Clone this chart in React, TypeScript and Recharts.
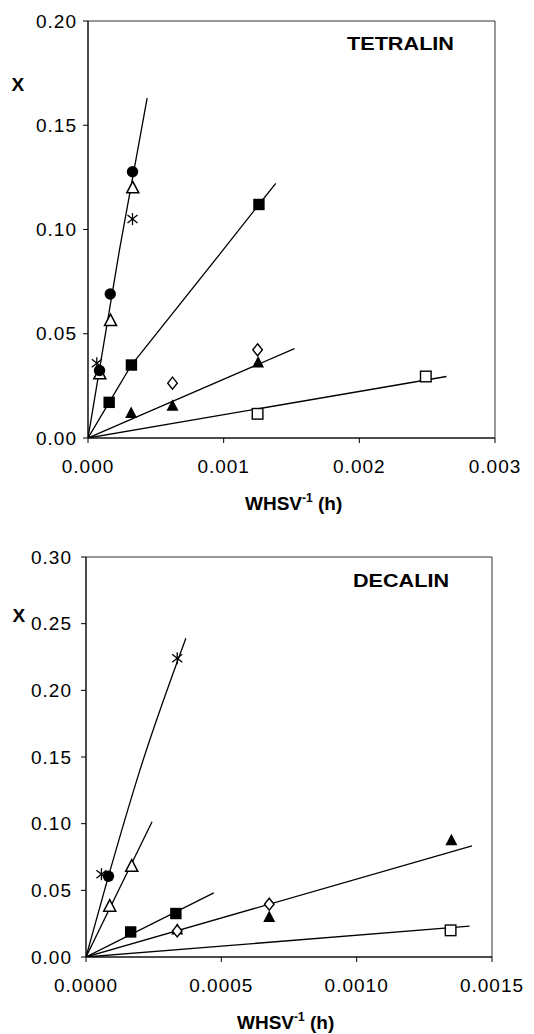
import React from "react";
import {
  ScatterChart,
  Scatter,
  XAxis,
  YAxis,
  ReferenceArea,
} from "recharts";

// TETRALIN (top panel): [WHSV^-1 (h), X]
const tetCircles = [[0.000085, 0.0324], [0.000164, 0.0691], [0.000328, 0.1277]];
const tetOpenTri = [[0.000087, 0.0308], [0.000166, 0.0563], [0.00033, 0.12]];
const tetStars = [[0.000065, 0.0359], [0.000328, 0.105]];
const tetFilledSq = [[0.000156, 0.0171], [0.00032, 0.035], [0.00126, 0.112]];
const tetFilledTri = [[0.000318, 0.012], [0.000623, 0.0155], [0.001254, 0.0362]];
const tetDiamonds = [[0.000623, 0.0263], [0.00125, 0.0423]];
const tetOpenSq = [[0.00125, 0.0116], [0.00249, 0.0295]];
const tetFits = [
  [[0, 0], [0.000232, 0.0902], [0.000436, 0.163]],
  [[0, 0], [0.000156, 0.0171], [0.00032, 0.035], [0.000996, 0.0902], [0.00126, 0.112], [0.001384, 0.1221]],
  [[0, 0], [0.001522, 0.0429]],
  [[0, 0], [0.002642, 0.0295]],
];
const tetXTicks = [0, 0.001, 0.002, 0.003];
const tetYTicks = [0, 0.05, 0.1, 0.15, 0.2];

// DECALIN (bottom panel)
const decStars = [[0.000057, 0.0621], [0.000337, 0.224]];
const decCircles = [[0.000083, 0.0606]];
const decOpenTri = [[0.0000877, 0.0381], [0.000169, 0.0681]];
const decFilledSq = [[0.000165, 0.0188], [0.000332, 0.0326]];
const decFilledTri = [[0.000337, 0.0206], [0.000677, 0.03], [0.00135, 0.0876]];
const decDiamonds = [[0.000337, 0.0195], [0.000677, 0.0396]];
const decOpenSq = [[0.001347, 0.02]];
const decFits = [
  [[0, 0], [0.000083, 0.0606], [0.000199, 0.14], [0.000369, 0.239]],
  [[0, 0], [0.000244, 0.1014]],
  [[0, 0], [0.000472, 0.0481]],
  [[0, 0], [0.001426, 0.0834]],
  [[0, 0], [0.001417, 0.0231]],
];
const decXTicks = [0, 0.0005, 0.001, 0.0015];
const decYTicks = [0, 0.05, 0.1, 0.15, 0.2, 0.25, 0.3];

const FONT = "'Liberation Sans', Arial, sans-serif";
const INK = "#000";

const pts = (a: number[][]) => a.map(([x, y]) => ({ x, y }));

const FilledCircle = (p: any) => <circle cx={p.cx} cy={p.cy} r={5.7} fill={INK} />;
const triPts = (p: any) =>
  `${p.cx},${p.cy - 6.5} ${p.cx - 6},${p.cy + 5} ${p.cx + 6},${p.cy + 5}`;
const OpenTri = (p: any) => (
  <polygon points={triPts(p)} fill="#fff" stroke={INK} strokeWidth={1.5} />
);
const FilledTri = (p: any) => <polygon points={triPts(p)} fill={INK} />;
const FilledSq = (p: any) => <rect x={p.cx - 5.7} y={p.cy - 5.7} width={11.4} height={11.4} fill={INK} />;
const OpenSq = (p: any) => (
  <rect x={p.cx - 5.3} y={p.cy - 5.3} width={10.6} height={10.6} fill="#fff" stroke={INK} strokeWidth={1.4} />
);
const Diamond = (p: any) => (
  <polygon
    points={`${p.cx},${p.cy - 6} ${p.cx + 4.8},${p.cy} ${p.cx},${p.cy + 6} ${p.cx - 4.8},${p.cy}`}
    fill="#fff"
    stroke={INK}
    strokeWidth={1.4}
  />
);
const Star = (p: any) => (
  <g stroke={INK} strokeWidth={1.3}>
    <line x1={p.cx - 5} y1={p.cy - 4} x2={p.cx + 5} y2={p.cy + 4} />
    <line x1={p.cx - 5} y1={p.cy + 4} x2={p.cx + 5} y2={p.cy - 4} />
    <line x1={p.cx} y1={p.cy - 6} x2={p.cx} y2={p.cy + 6} />
  </g>
);
const NoDot = () => <g />;

interface PanelProps {
  height: number;
  margin: { top: number; right: number; left: number; bottom: number };
  yWidth: number;
  xDomain: [number, number];
  yDomain: [number, number];
  xTicks: number[];
  yTicks: number[];
  xDigits: number;
  yTickMargin: number;
  fits: number[][][];
  smoothFits: number[];
  series: { data: number[][]; shape: any }[];
}

function Panel(props: PanelProps) {
  const tickStyle = { fontFamily: FONT, fontSize: 19, fill: INK, letterSpacing: 1 };
  return (
    <ScatterChart width={534} height={props.height} margin={props.margin}>
      <XAxis
        type="number"
        dataKey="x"
        domain={props.xDomain}
        ticks={props.xTicks}
        tickFormatter={(v: number) => v.toFixed(props.xDigits)}
        tick={tickStyle}
        tickSize={5}
        tickMargin={17}
        height={40}
        axisLine={{ stroke: INK }}
        tickLine={{ stroke: INK }}
        allowDataOverflow
        interval={0}
      />
      <YAxis
        type="number"
        dataKey="y"
        domain={props.yDomain}
        ticks={props.yTicks}
        tickFormatter={(v: number) => v.toFixed(2)}
        tick={tickStyle}
        tickSize={5}
        tickMargin={props.yTickMargin}
        width={props.yWidth}
        axisLine={{ stroke: INK }}
        tickLine={{ stroke: INK }}
        allowDataOverflow
        interval={0}
      />
      <ReferenceArea
        x1={props.xDomain[0]}
        x2={props.xDomain[1]}
        y1={props.yDomain[0]}
        y2={props.yDomain[1]}
        fill="none"
        stroke="#333"
        strokeWidth={1}
      />
      {props.fits.map((f, i) => (
        <Scatter
          key={"fit" + i}
          data={pts(f)}
          shape={NoDot}
          line={{ stroke: INK, strokeWidth: 1.3 }}
          lineJointType={props.smoothFits.includes(i) ? "monotoneX" : "linear"}
          isAnimationActive={false}
        />
      ))}
      {props.series.map((s, i) => (
        <Scatter key={"s" + i} data={pts(s.data)} shape={s.shape} isAnimationActive={false} />
      ))}
    </ScatterChart>
  );
}

const labelStyle = { fontFamily: FONT, fontWeight: 700 as const, fontSize: 19, fill: INK };

export default function App() {
  return (
    <div style={{ position: "absolute", left: 0, top: 0, width: 534, height: 1034, background: "#fff" }}>
      <div style={{ position: "absolute", left: 0, top: 0 }}>
        <Panel
          height={520}
          margin={{ top: 21, right: 39, left: 0, bottom: 42 }}
          yWidth={88}
          xDomain={[0, 0.003]}
          yDomain={[0, 0.2]}
          xTicks={tetXTicks}
          yTicks={tetYTicks}
          xDigits={3}
          yTickMargin={6}
          fits={tetFits}
          smoothFits={[0]}
          series={[
            { data: tetOpenSq, shape: OpenSq },
            { data: tetDiamonds, shape: Diamond },
            { data: tetFilledTri, shape: FilledTri },
            { data: tetFilledSq, shape: FilledSq },
            { data: tetStars, shape: Star },
            { data: tetOpenTri, shape: OpenTri },
            { data: tetCircles, shape: FilledCircle },
          ]}
        />
      </div>
      <div style={{ position: "absolute", left: 0, top: 520 }}>
        <Panel
          height={514}
          margin={{ top: 37, right: 42, left: 0, bottom: 37 }}
          yWidth={86}
          xDomain={[0, 0.0015]}
          yDomain={[0, 0.3]}
          xTicks={decXTicks}
          yTicks={decYTicks}
          xDigits={4}
          yTickMargin={9}
          fits={decFits}
          smoothFits={[0]}
          series={[
            { data: decOpenSq, shape: OpenSq },
            { data: decFilledTri, shape: FilledTri },
            { data: decDiamonds, shape: Diamond },
            { data: decFilledSq, shape: FilledSq },
            { data: decOpenTri, shape: OpenTri },
            { data: decCircles, shape: FilledCircle },
            { data: decStars, shape: Star },
          ]}
        />
      </div>
      <svg
        width={534}
        height={1034}
        style={{ position: "absolute", left: 0, top: 0, pointerEvents: "none" }}
      >
        <text x={347} y={50} {...labelStyle} textLength={107} lengthAdjust="spacingAndGlyphs">
          TETRALIN
        </text>
        <text x={11.5} y={90.7} {...labelStyle}>X</text>
        <text x={245} y={510} {...labelStyle}>
          WHSV<tspan dy={-8} fontSize={12}>-1</tspan>
          <tspan dy={8}> (h)</tspan>
        </text>
        <text x={353} y={586.7} {...labelStyle} textLength={96} lengthAdjust="spacingAndGlyphs">
          DECALIN
        </text>
        <text x={12.5} y={621.7} {...labelStyle}>X</text>
        <text x={237} y={1029} {...labelStyle}>
          WHSV<tspan dy={-8} fontSize={12}>-1</tspan>
          <tspan dy={8}> (h)</tspan>
        </text>
      </svg>
    </div>
  );
}
